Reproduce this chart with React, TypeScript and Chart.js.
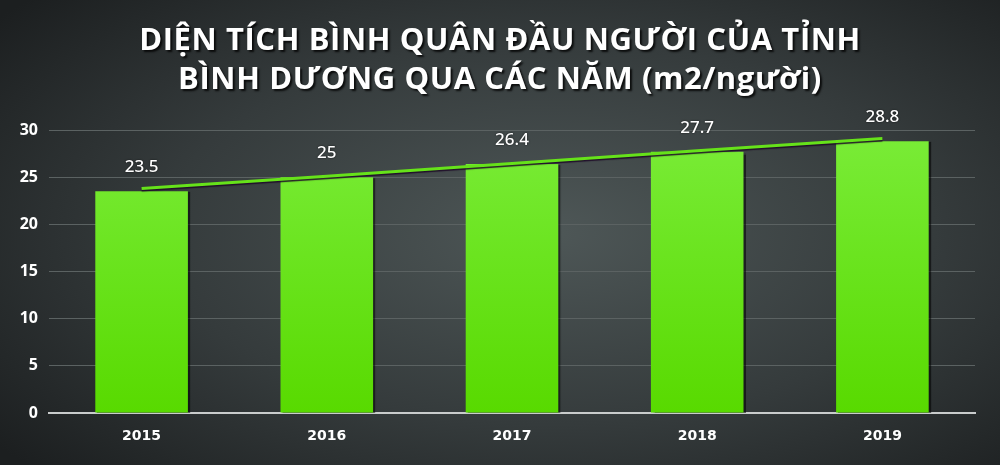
import React, { useEffect, useRef } from "react";
import { Chart, registerables } from "chart.js";

Chart.register(...registerables);

const titleLines = [
  "DIỆN TÍCH BÌNH QUÂN ĐẦU NGƯỜI CỦA TỈNH",
  "BÌNH DƯƠNG QUA CÁC NĂM (m2/người)",
];
const years = ["2015", "2016", "2017", "2018", "2019"];
const areaPerPerson = [23.5, 25, 26.4, 27.7, 28.8];
const trendValues = [23.8, 25.1, 26.45, 27.8, 29.1];
const yTicks = [0, 5, 10, 15, 20, 25, 30];

const valueLabels = {
  id: "valueLabels",
  afterDatasetsDraw(chart: any) {
    const meta = chart.getDatasetMeta(1);
    const ctx = chart.ctx;
    ctx.save();
    ctx.font = "500 17px 'Noto Sans'";
    ctx.fillStyle = "#ffffff";
    ctx.textAlign = "center";
    ctx.textBaseline = "middle";
    ctx.shadowColor = "rgba(0,0,0,0.7)";
    ctx.shadowBlur = 2;
    meta.data.forEach((bar: any, i: number) => {
      ctx.fillText(String(areaPerPerson[i]), bar.x, bar.y - 24);
    });
    ctx.restore();
  },
};

const shadows = {
  id: "shadows",
  beforeDatasetDraw(chart: any, args: any) {
    const ctx = chart.ctx;
    ctx.save();
    if (args.index === 0) {
      ctx.shadowColor = "rgba(30,10,40,0.9)";
      ctx.shadowOffsetY = 1.5;
      ctx.shadowBlur = 1;
    } else {
      ctx.shadowColor = "rgba(0,0,0,0.55)";
      ctx.shadowOffsetX = 2;
      ctx.shadowOffsetY = 1;
      ctx.shadowBlur = 1;
    }
  },
  afterDatasetDraw(chart: any) {
    chart.ctx.restore();
  },
};

export default function App() {
  const ref = useRef<HTMLCanvasElement>(null);
  useEffect(() => {
    const canvas = ref.current!;
    const chart = new Chart(canvas, {
      type: "bar",
      data: {
        labels: years,
        datasets: [
          {
            type: "line",
            data: trendValues,
            borderColor: "#66e21a",
            borderWidth: 3,
            pointRadius: 0,
            tension: 0,
            order: 0,
          } as any,
          {
            type: "bar",
            data: areaPerPerson,
            backgroundColor: (c: any) => {
              const area = c.chart.chartArea;
              if (!area) return "#66e21a";
              const g = c.chart.ctx.createLinearGradient(0, area.top, 0, area.bottom);
              g.addColorStop(0, "#7aec38");
              g.addColorStop(1, "#58da00");
              return g;
            },
            borderWidth: 0,
            barPercentage: 0.5,
            categoryPercentage: 1,
            order: 1,
          },
        ],
      },
      options: {
        responsive: false,
        animation: false,
        layout: { padding: { top: 130, left: 0, right: 25, bottom: 0 } },
        plugins: {
          legend: { display: false },
          tooltip: { enabled: false },
          title: { display: false },
        },
        scales: {
          x: {
            grid: { display: false, drawTicks: false },
            border: { display: true, color: "#c9cccc", width: 2 },
            ticks: {
              color: "#ffffff",
              font: { family: "'DejaVu Sans'", size: 14, weight: "bold" },
              padding: 15,
            },
            afterFit: (s: any) => {
              s.height = 52;
            },
          },
          y: {
            min: 0,
            max: 30,
            afterBuildTicks: (s: any) => {
              s.ticks = yTicks.map((v) => ({ value: v }));
            },
            grid: {
              color: "#5b6262",
              lineWidth: 1,
              drawTicks: false,
            },
            border: { display: false },
            ticks: {
              color: "#ffffff",
              font: { family: "'Noto Sans'", size: 16, weight: "bold" },
              padding: 11,
            },
            afterFit: (s: any) => {
              s.width = 49;
            },
          },
        },
      },
      plugins: [shadows, valueLabels],
    });
    return () => chart.destroy();
  }, []);

  return (
    <div
      style={{
        position: "fixed",
        left: 0,
        top: 0,
        width: 1000,
        height: 465,
        overflow: "hidden",
        background:
          "radial-gradient(ellipse 70% 75% at 55% 50%, #4e5757 0%, #353b3c 55%, #1c1f20 100%)",
      }}
    >
      <div
        style={{
          position: "absolute",
          left: 0,
          top: 19,
          width: 1000,
          textAlign: "center",
          color: "#ffffff",
          fontFamily: "'Open Sans', sans-serif",
          fontWeight: 700,
          fontSize: 31,
          lineHeight: "39px",
          letterSpacing: "0.6px",
          textShadow: "2px 2px 2px rgba(0,0,0,0.8)",
        }}
      >
        <div>{titleLines[0]}</div>
        <div>{titleLines[1]}</div>
      </div>
      <canvas
        ref={ref}
        width={1000}
        height={465}
        style={{ position: "absolute", left: 0, top: 0 }}
      />
    </div>
  );
}
